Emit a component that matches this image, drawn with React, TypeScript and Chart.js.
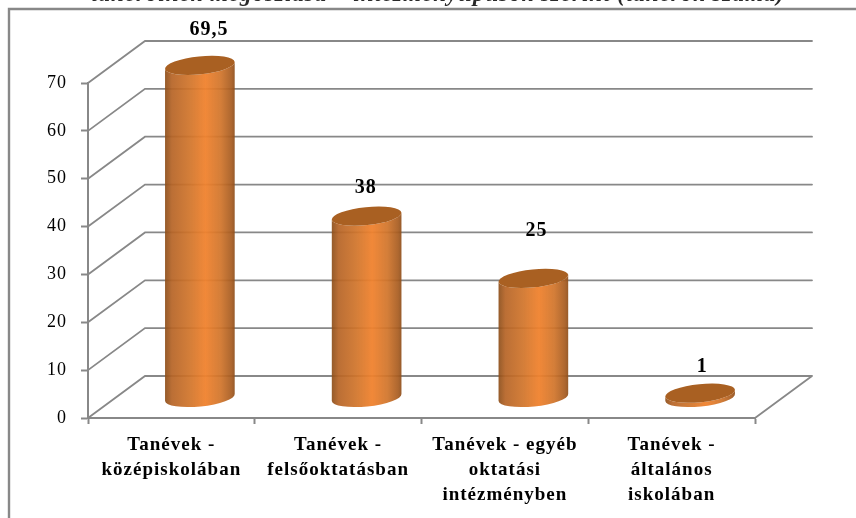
import React, { useEffect, useRef } from "react";
import { Chart, registerables, BarElement } from "chart.js";

Chart.register(...registerables);

const categories: string[][] = [
  ["Tanévek -", "középiskolában"],
  ["Tanévek -", "felsőoktatásban"],
  ["Tanévek - egyéb", "oktatási", "intézményben"],
  ["Tanévek -", "általános", "iskolában"],
];
const values: number[] = [69.5, 38, 25, 1];
const dataLabels: string[] = ["69,5", "38", "25", "1"];
const labelShifts: number[][] = [[9, -35], [-1, -27], [3, -47], [2, -25]];
const titleText = "tanerőinek megoszlása – intézménytípusok szerint (tanerők száma)";

const TOP_CROP = 20;
const DEPTH_X = 57;
const DEPTH_Y = 42;
const GREY = "#888888";

(BarElement.prototype as any).draw = function (ctx: CanvasRenderingContext2D) {
  const { x, y, base, width } = this.getProps(["x", "y", "base", "width"], true);
  const cx = x + DEPTH_X / 2;
  const top = y - DEPTH_Y / 2 + 1;
  const bottom = base - DEPTH_Y / 2 + 1;
  const rx = width / 2;
  const ry = 9;
  const rot = -0.1;
  ctx.save();
  const g = ctx.createLinearGradient(cx - rx, 0, cx + rx, 0);
  g.addColorStop(0, "rgba(140,78,26,0.93)");
  g.addColorStop(0.1, "rgba(182,100,38,0.93)");
  g.addColorStop(0.35, "rgba(208,116,42,0.93)");
  g.addColorStop(0.58, "rgba(240,130,46,0.95)");
  g.addColorStop(0.8, "rgba(208,116,42,0.93)");
  g.addColorStop(0.95, "rgba(168,92,32,0.93)");
  g.addColorStop(1, "rgba(142,78,26,0.93)");
  ctx.beginPath();
  ctx.ellipse(cx, top, rx, ry, rot, Math.PI, 0, true);
  ctx.ellipse(cx, bottom, rx, ry, rot, 0, Math.PI, false);
  ctx.closePath();
  ctx.fillStyle = g;
  ctx.fill();
  ctx.beginPath();
  ctx.ellipse(cx, top, rx, ry, rot, 0, Math.PI * 2);
  ctx.fillStyle = "#a96022";
  ctx.fill();
  ctx.restore();
};

const chromePlugin = {
  id: "chrome",
  afterLayout(chart: any) {
    if (chart.titleBlock) {
      chart.titleBlock.left = 20;
      chart.titleBlock.right = 856;
    }
  },
  beforeDraw(chart: any) {
    (chart.ctx as any).letterSpacing = "1px";
  },
  beforeDatasetsDraw(chart: any) {
    const { ctx, scales } = chart;
    const yS = scales.y;
    const xS = scales.x;
    ctx.save();
    ctx.strokeStyle = GREY;
    ctx.lineWidth = 1.8;
    ctx.lineCap = "round";
    ctx.beginPath();
    for (const t of yS.ticks) {
      const py = yS.getPixelForValue(t.value);
      ctx.moveTo(xS.left, py);
      ctx.lineTo(xS.left + DEPTH_X, py - DEPTH_Y);
      ctx.lineTo(xS.right + DEPTH_X, py - DEPTH_Y);
    }
    const py0 = yS.getPixelForValue(0);
    ctx.moveTo(xS.right, py0);
    ctx.lineTo(xS.right + DEPTH_X, py0 - DEPTH_Y);
    ctx.stroke();
    ctx.lineWidth = 2.4;
    ctx.beginPath();
    ctx.moveTo(9, chart.height);
    ctx.lineTo(9, 9 + TOP_CROP);
    ctx.lineTo(chart.width, 9 + TOP_CROP);
    ctx.stroke();
    ctx.restore();
  },
  afterDatasetsDraw(chart: any) {
    const { ctx } = chart;
    const meta = chart.getDatasetMeta(0);
    ctx.save();
    ctx.font = 'bold 20px "Liberation Serif"';
    ctx.fillStyle = "#000";
    ctx.textAlign = "center";
    ctx.textBaseline = "middle";
    meta.data.forEach((el: any, i: number) => {
      ctx.fillText(
        dataLabels[i],
        el.x + DEPTH_X / 2 + labelShifts[i][0],
        el.y - DEPTH_Y / 2 + labelShifts[i][1]
      );
    });
    ctx.restore();
  },
};

export default function App() {
  const ref = useRef<HTMLCanvasElement>(null);
  useEffect(() => {
    document.body.style.margin = "0";
    document.body.style.background = "#fff";
    const chart = new Chart(ref.current!, {
      type: "bar",
      data: {
        labels: categories as any,
        datasets: [{ data: values, backgroundColor: "#f0812e", barThickness: 70, clip: false }],
      },
      options: {
        responsive: false,
        animation: false,
        layout: { padding: { top: 0, left: 0, right: 101, bottom: 0 } },
        plugins: {
          legend: { display: false },
          tooltip: { enabled: false },
          title: {
            display: true,
            text: titleText,
            color: "#2a2a2a",
            font: { family: '"Liberation Serif"', size: 23, weight: "bold", style: "italic", lineHeight: 1.2 },
            padding: { top: 1, bottom: 74.4 },
          },
        },
        scales: {
          x: {
            type: "category",
            offset: true,
            grid: {
              offset: true,
              drawOnChartArea: false,
              drawTicks: true,
              tickLength: 6,
              tickColor: GREY,
              tickWidth: 2,
            },
            border: { display: true, color: GREY, width: 2 },
            ticks: {
              autoSkip: false,
              maxRotation: 0,
              minRotation: 0,
              padding: 9,
              color: "#000",
              font: { family: '"Liberation Serif"', size: 19, weight: "bold", lineHeight: 25 / 19 },
            },
            afterFit: (s: any) => { s.height = 100; },
          },
          y: {
            min: 0,
            max: 70,
            grid: {
              drawOnChartArea: false,
              drawTicks: true,
              tickLength: 7,
              tickColor: GREY,
              tickWidth: 2,
            },
            border: { display: true, color: GREY, width: 2 },
            ticks: {
              stepSize: 10,
              padding: 14,
              color: "#000",
              font: { family: '"Liberation Serif"', size: 18 },
            },
            afterFit: (s: any) => { s.width = 88; },
          },
        },
      } as any,
      plugins: [chromePlugin],
    });
    return () => chart.destroy();
  }, []);
  return (
    <div style={{ position: "absolute", left: 0, top: -TOP_CROP, width: 856, height: 518 + TOP_CROP }}>
      <canvas ref={ref} width={856} height={518 + TOP_CROP} style={{ display: "block" }} />
    </div>
  );
}
